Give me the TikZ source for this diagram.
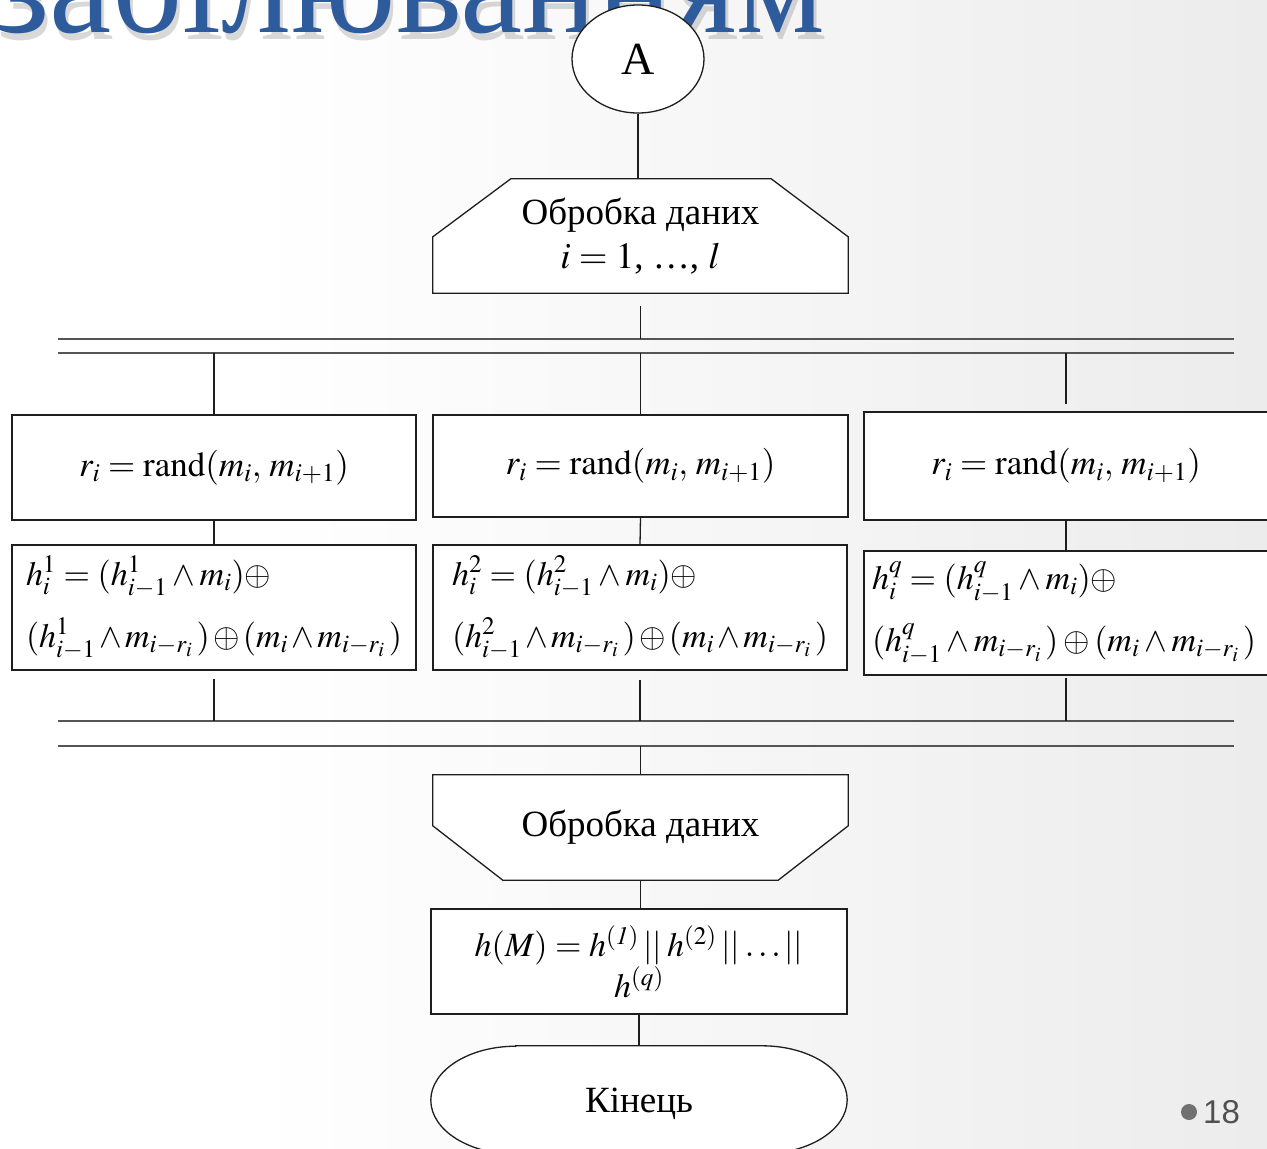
\documentclass[tikz,border=0pt]{standalone}
\usepackage{mathptmx}
\usepackage{fontspec}
\setmainfont{Liberation Serif}
\newfontfamily\pgnumfont{Liberation Sans}
\usetikzlibrary{backgrounds,shapes.geometric}
\definecolor{bgr}{HTML}{E0E0E0}
\definecolor{titleblue}{HTML}{2E5B9B}
\definecolor{barcol}{HTML}{555555}
\definecolor{linecol}{HTML}{1E1E1E}
\definecolor{pgdot}{HTML}{707070}
\definecolor{pgtext}{HTML}{505050}
\pgfdeclarehorizontalshading{slidebg}{100bp}{color(0bp)=(white); color(35bp)=(white); color(100bp)=(bgr)}
\newcommand{\mainfs}{\fontsize{37}{44}\selectfont}
\newcommand{\randfs}{\fontsize{35}{44}\selectfont}
\newcommand{\formfs}{\fontsize{34}{62}\selectfont}
\begin{document}
\begin{tikzpicture}[x=1pt,y=-1pt,
  conn/.style={draw=linecol, line width=1.3pt},
  bar/.style={draw=barcol, line width=2pt},
  outline/.style={draw=linecol, fill=white, line width=1.3pt, line join=miter},
  procbox/.style={draw=linecol, fill=white, line width=1.3pt, inner sep=0pt, font=\randfs, align=center},
  formbox/.style={draw=linecol, fill=white, line width=1.3pt, inner sep=0pt, font=\formfs, align=left},
  plain/.style={inner sep=0pt, font=\mainfs, align=center}]
\useasboundingbox (0,0) rectangle (1267,1149);
\begin{scope}[on background layer]
  \shade[shading=slidebg] (0,0) rectangle (1267,1149);
\end{scope}
% title (partly cut off)
\node[anchor=base west, inner sep=0pt, text=gray, opacity=0.3, font=\fontsize{140}{140}\selectfont] (titleshadow) at (-3,39) {забілюванням};
\node[anchor=base west, inner sep=0pt, text=titleblue, font=\fontsize{140}{140}\selectfont] (title) at (-6,32) {забілюванням};
% connector A
\node[ellipse, draw=linecol, fill=white, line width=1.3pt, minimum width=132pt, minimum height=108pt, inner sep=0pt, font=\fontsize{46}{46}\selectfont] (A) at (638,59) {A};
% preparation top
\node[plain, minimum width=415pt, minimum height=114pt] (prep1) at (640.5,236) {Обробка даних\\ $i = 1$, \dots, $l$};
\begin{scope}[on background layer]
  \draw[outline] ([xshift=78pt]prep1.north west) -- ([xshift=-77pt]prep1.north east) -- ([yshift=-58pt]prep1.north east) -- (prep1.south east) -- (prep1.south west) -- ([yshift=-58pt]prep1.north west) -- cycle;
\end{scope}
% bars
\coordinate (b1aL) at (58,339); \coordinate (b1aR) at (1234,339);
\coordinate (b1bL) at (58,353); \coordinate (b1bR) at (1234,353);
\coordinate (b2aL) at (58,721); \coordinate (b2aR) at (1234,721);
\coordinate (b2bL) at (58,746); \coordinate (b2bR) at (1234,746);
\draw[bar] (b1aL) -- (b1aR);
\draw[bar] (b1bL) -- (b1bR);
\draw[bar] (b2aL) -- (b2aR);
\draw[bar] (b2bL) -- (b2bR);
% row 1
\node[procbox, minimum width=404pt, minimum height=105pt] (r1) at (214,467.5) {$r_i = \mathrm{rand}(m_i,\, m_{i+1})$};
\node[procbox, minimum width=415pt, minimum height=102pt] (r2) at (640.5,466) {$r_i = \mathrm{rand}(m_i,\, m_{i+1})$};
\node[procbox, minimum width=404pt, minimum height=108pt] (r3) at (1066,466) {$r_i = \mathrm{rand}(m_i,\, m_{i+1})$};
% row 2
\node[formbox, text width=376pt, inner xsep=14pt, minimum height=125pt] (h1) at (214,607.5)
  {$h_i^1 = (h_{i-1}^1 \wedge m_i) \oplus$\\ $(h_{i-1}^1 \wedge m_{i-r_i}\,) \oplus (m_i \wedge m_{i-r_i}\,)$};
\node[formbox, text width=376pt, inner xsep=19pt, minimum height=125pt] (h2) at (640,607.5)
  {$h_i^2 = (h_{i-1}^2 \wedge m_i) \oplus$\\ $(h_{i-1}^2 \wedge m_{i-r_i}\,) \oplus (m_i \wedge m_{i-r_i}\,)$};
\node[formbox, text width=388pt, inner xsep=8pt, minimum height=124pt] (h3) at (1066,613)
  {$h_i^q = (h_{i-1}^q \wedge m_i) \oplus$\\ $(h_{i-1}^q \wedge m_{i-r_i}\,) \oplus (m_i \wedge m_{i-r_i}\,)$};
% preparation bottom
\node[plain, minimum width=415pt, minimum height=105pt] (prep2) at (640.5,827.5) {Обробка даних};
\begin{scope}[on background layer]
  \draw[outline] (prep2.north west) -- (prep2.north east) -- ([yshift=-51pt]prep2.north east) -- ([xshift=-70pt]prep2.south east) -- ([xshift=70pt]prep2.south west) -- ([yshift=-51pt]prep2.north west) -- cycle;
\end{scope}
% result
\node[procbox, minimum width=416pt, minimum height=105pt, font=\fontsize{34}{41}\selectfont] (res) at (639,961.5)
  {$h(M) = h^{(\mathit{1})} \mathbin{||} h^{(2)} \mathbin{||}\ldots \mathbin{||}$\\ $h^{(q)}$};
% terminator
\node[plain, minimum width=416pt, minimum height=108pt, text depth=0pt] (fin) at (639,1100) {Кінець};
\begin{scope}[on background layer]
  \draw[outline] ([xshift=85pt]fin.north west) -- ([xshift=-85pt]fin.north east)
     arc[start angle=90, end angle=-90, x radius=85pt, y radius=54pt]
     -- ([xshift=85pt]fin.south west)
     arc[start angle=270, end angle=90, x radius=85pt, y radius=54pt] -- cycle;
\end{scope}
% connectors
\draw[conn] (A.south) -- (A.south |- prep1.north);
\draw[conn, shorten <=13pt] (prep1.south) -- (prep1.south |- b1aL);
\draw[conn] (r1.north |- b1bL) -- (r1.north);
\draw[conn] (r2.north |- b1bL) -- (r2.north);
\draw[conn, shorten >=7pt] (r3.north |- b1bL) -- (r3.north);
\draw[conn] (r1.south) -- (h1.north);
\draw[conn] (r2.south) -- (h2.north);
\draw[conn] (r3.south) -- (r3.south |- h3.north);
\draw[conn, shorten <=8pt] (h1.south) -- (h1.south |- b2aL);
\draw[conn, shorten <=9pt] (h2.south) -- (h2.south |- b2aL);
\draw[conn, shorten <=2pt] (h3.south) -- (h3.south |- b2aL);
\draw[conn] (prep2.north |- b2bL) -- (prep2.north);
\draw[conn] (prep2.south) -- (prep2.south |- res.north);
\draw[conn] (res.south) -- (res.south |- fin.north);
% page number
\node[circle, fill=pgdot, minimum size=16pt, inner sep=0pt] (pgdotnode) at (1189,1112) {};
\node[anchor=west, inner sep=0pt, text=pgtext, font=\pgnumfont\fontsize{33}{33}\selectfont] (pgnum) at (1203,1112) {18};
\end{tikzpicture}
\end{document}
